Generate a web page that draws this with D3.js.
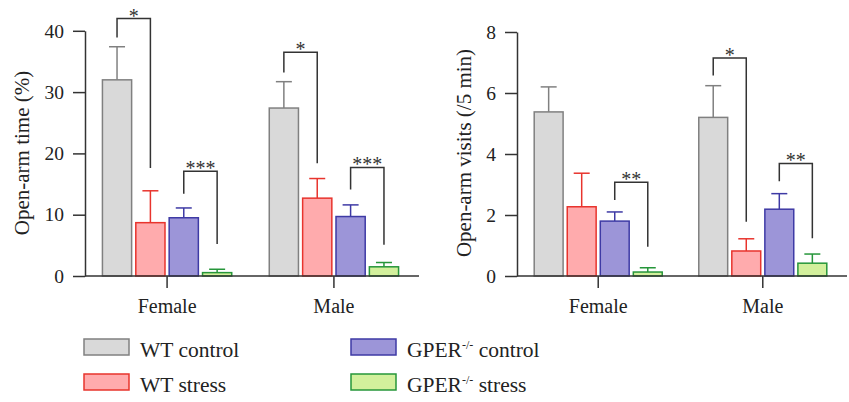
<!DOCTYPE html>
<html>
<head>
<meta charset="utf-8">
<script src="https://cdn.jsdelivr.net/npm/d3@7"></script>
<style>
  html, body { margin: 0; padding: 0; background: #fff; }
  svg { display: block; }
</style>
</head>
<body>
<svg id="chart" width="849" height="402"></svg>
<script>
const FONT = "'Liberation Serif', 'DejaVu Serif', 'Times New Roman', serif";

// Groups and series
const sexes = ["Female", "Male"];
const groups = ["WT control", "WT stress", "GPER control", "GPER stress"];
const fills = ["#d9d9d9", "#ffabad", "#9c95d8", "#d2f09c"];
const strokes = ["#808080", "#e8342d", "#3e3aa5", "#26963a"];

// Open-arm time (%): means and mean + SEM, per sex, per group
const timeMean = [[32.0, 8.7, 9.5, 0.55], [27.4, 12.7, 9.7, 1.5]];
const timeErr = [[37.4, 13.9, 11.1, 1.1], [31.7, 15.9, 11.6, 2.2]];
const timeTicks = [0, 10, 20, 30, 40];

// Open-arm visits (/5 min)
const visitMean = [[5.38, 2.27, 1.8, 0.13], [5.2, 0.82, 2.19, 0.42]];
const visitErr = [[6.2, 3.37, 2.1, 0.27], [6.24, 1.22, 2.7, 0.72]];
const visitTicks = [0, 2, 4, 6, 8];

// Significance brackets: sex, left group, right group, top, left foot, right foot, label
const timeSig = [
  ["Female", 0, 1, 42.0, 38.9, 17.6, "*"],
  ["Female", 2, 3, 17.1, 13.4, 5.2, "***"],
  ["Male", 0, 1, 36.5, 33.2, 18.4, "*"],
  ["Male", 2, 3, 17.7, 14.1, 5.1, "***"]
];
const visitSig = [
  ["Female", 2, 3, 3.07, 2.49, 0.96, "**"],
  ["Male", 0, 1, 7.15, 6.57, 1.78, "*"],
  ["Male", 2, 3, 3.69, 3.11, 1.24, "**"]
];

const svg = d3.select("#chart");

function panel(opt) {
  const g = svg.append("g");
  const y = d3.scaleLinear().domain([0, opt.max]).range([276, 276 - opt.max * opt.ppu]);
  const x0 = d3.scaleBand().domain(sexes).range([opt.x0, opt.x1]).paddingInner(opt.padIn).paddingOuter(0.1);
  const x1 = d3.scaleBand().domain(d3.range(4)).range([0, x0.bandwidth()]).paddingInner(0.08);

  // bars with upper error bars
  sexes.forEach((s, si) => {
    const gg = g.append("g").attr("transform", `translate(${x0(s)},0)`);
    opt.mean[si].forEach((v, i) => {
      const cx = x1(i) + x1.bandwidth() / 2;
      const e = opt.err[si][i];
      gg.append("line").attr("x1", cx).attr("x2", cx)
        .attr("y1", y(v)).attr("y2", y(e))
        .attr("stroke", strokes[i]).attr("stroke-width", 1.5);
      gg.append("line").attr("x1", cx - 8).attr("x2", cx + 8)
        .attr("y1", y(e)).attr("y2", y(e))
        .attr("stroke", strokes[i]).attr("stroke-width", 1.5);
      gg.append("rect")
        .attr("x", x1(i) + 0.75).attr("width", x1.bandwidth() - 1.5)
        .attr("y", y(v)).attr("height", y(0) - y(v))
        .attr("fill", fills[i]).attr("stroke", strokes[i]).attr("stroke-width", 1.5);
    });
  });

  // significance brackets
  opt.sig.forEach(([s, a, b, top, fa, fb, lab]) => {
    const xa = x0(s) + x1(a) + x1.bandwidth() / 2;
    const xb = x0(s) + x1(b) + x1.bandwidth() / 2;
    g.append("path")
      .attr("d", `M${xa},${y(fa)}V${y(top)}H${xb}V${y(fb)}`)
      .attr("fill", "none").attr("stroke", "#333").attr("stroke-width", 1.5);
    g.append("text").attr("x", (xa + xb) / 2).attr("y", y(top) + 4)
      .attr("text-anchor", "middle").attr("font-size", 20).attr("font-family", FONT)
      .attr("fill", "#333").text(lab);
  });

  // y axis
  const ya = g.append("g").attr("transform", `translate(${opt.x0},0)`)
    .call(d3.axisLeft(y).tickValues(opt.ticks).tickSize(12).tickSizeOuter(0).tickPadding(9));
  ya.attr("font-family", FONT).attr("font-size", 19.5);
  ya.selectAll("text").attr("fill", "#222");
  ya.selectAll("line, path").attr("stroke", "#333").attr("stroke-width", 1.5);

  // x axis
  const xa = g.append("g").attr("transform", "translate(0,276)")
    .call(d3.axisBottom(x0).tickSize(12).tickSizeOuter(0).tickPadding(11));
  xa.select(".domain").attr("d", `M${opt.x0},0H${opt.xEnd}`);
  xa.attr("font-family", FONT).attr("font-size", 20);
  xa.selectAll("text").attr("fill", "#222");
  xa.selectAll("line, path").attr("stroke", "#333").attr("stroke-width", 1.5);

  g.append("text")
    .attr("transform", `translate(${opt.labelX},153) rotate(-90)`)
    .attr("text-anchor", "middle").attr("dy", "0.35em")
    .attr("font-family", FONT).attr("font-size", 21).attr("fill", "#222").text(opt.label);
}

panel({ max: 40, ppu: 6.13, x0: 85, x1: 416, xEnd: 419, padIn: 0.216, mean: timeMean, err: timeErr, ticks: timeTicks, sig: timeSig, label: "Open-arm time (%)", labelX: 22 });
panel({ max: 8, ppu: 30.5, x0: 517, x1: 844, xEnd: 847, padIn: 0.213, mean: visitMean, err: visitErr, ticks: visitTicks, sig: visitSig, label: "Open-arm visits (/5 min)", labelX: 464 });

// legend
const legend = svg.append("g").attr("font-family", FONT);
const legPos = [[84, 339], [84, 374], [351, 339], [351, 374]];
const legText = [
  ["WT control", null],
  ["WT stress", null],
  ["GPER", " control"],
  ["GPER", " stress"]
];
groups.forEach((gname, i) => {
  const [lx, ly] = legPos[i];
  legend.append("rect").attr("x", lx).attr("y", ly).attr("width", 45).attr("height", 16)
    .attr("fill", fills[i]).attr("stroke", strokes[i]).attr("stroke-width", 1.5);
  const t = legend.append("text").attr("x", lx + 56).attr("y", ly + 18)
    .attr("font-size", 21.5).attr("fill", "#222");
  const [a, b] = legText[i];
  t.append("tspan").text(a);
  if (b) {
    t.append("tspan").attr("dy", -8).attr("font-size", 12).text("-/-");
    t.append("tspan").attr("dy", 8).text(b);
  }
});
</script>
</body>
</html>
